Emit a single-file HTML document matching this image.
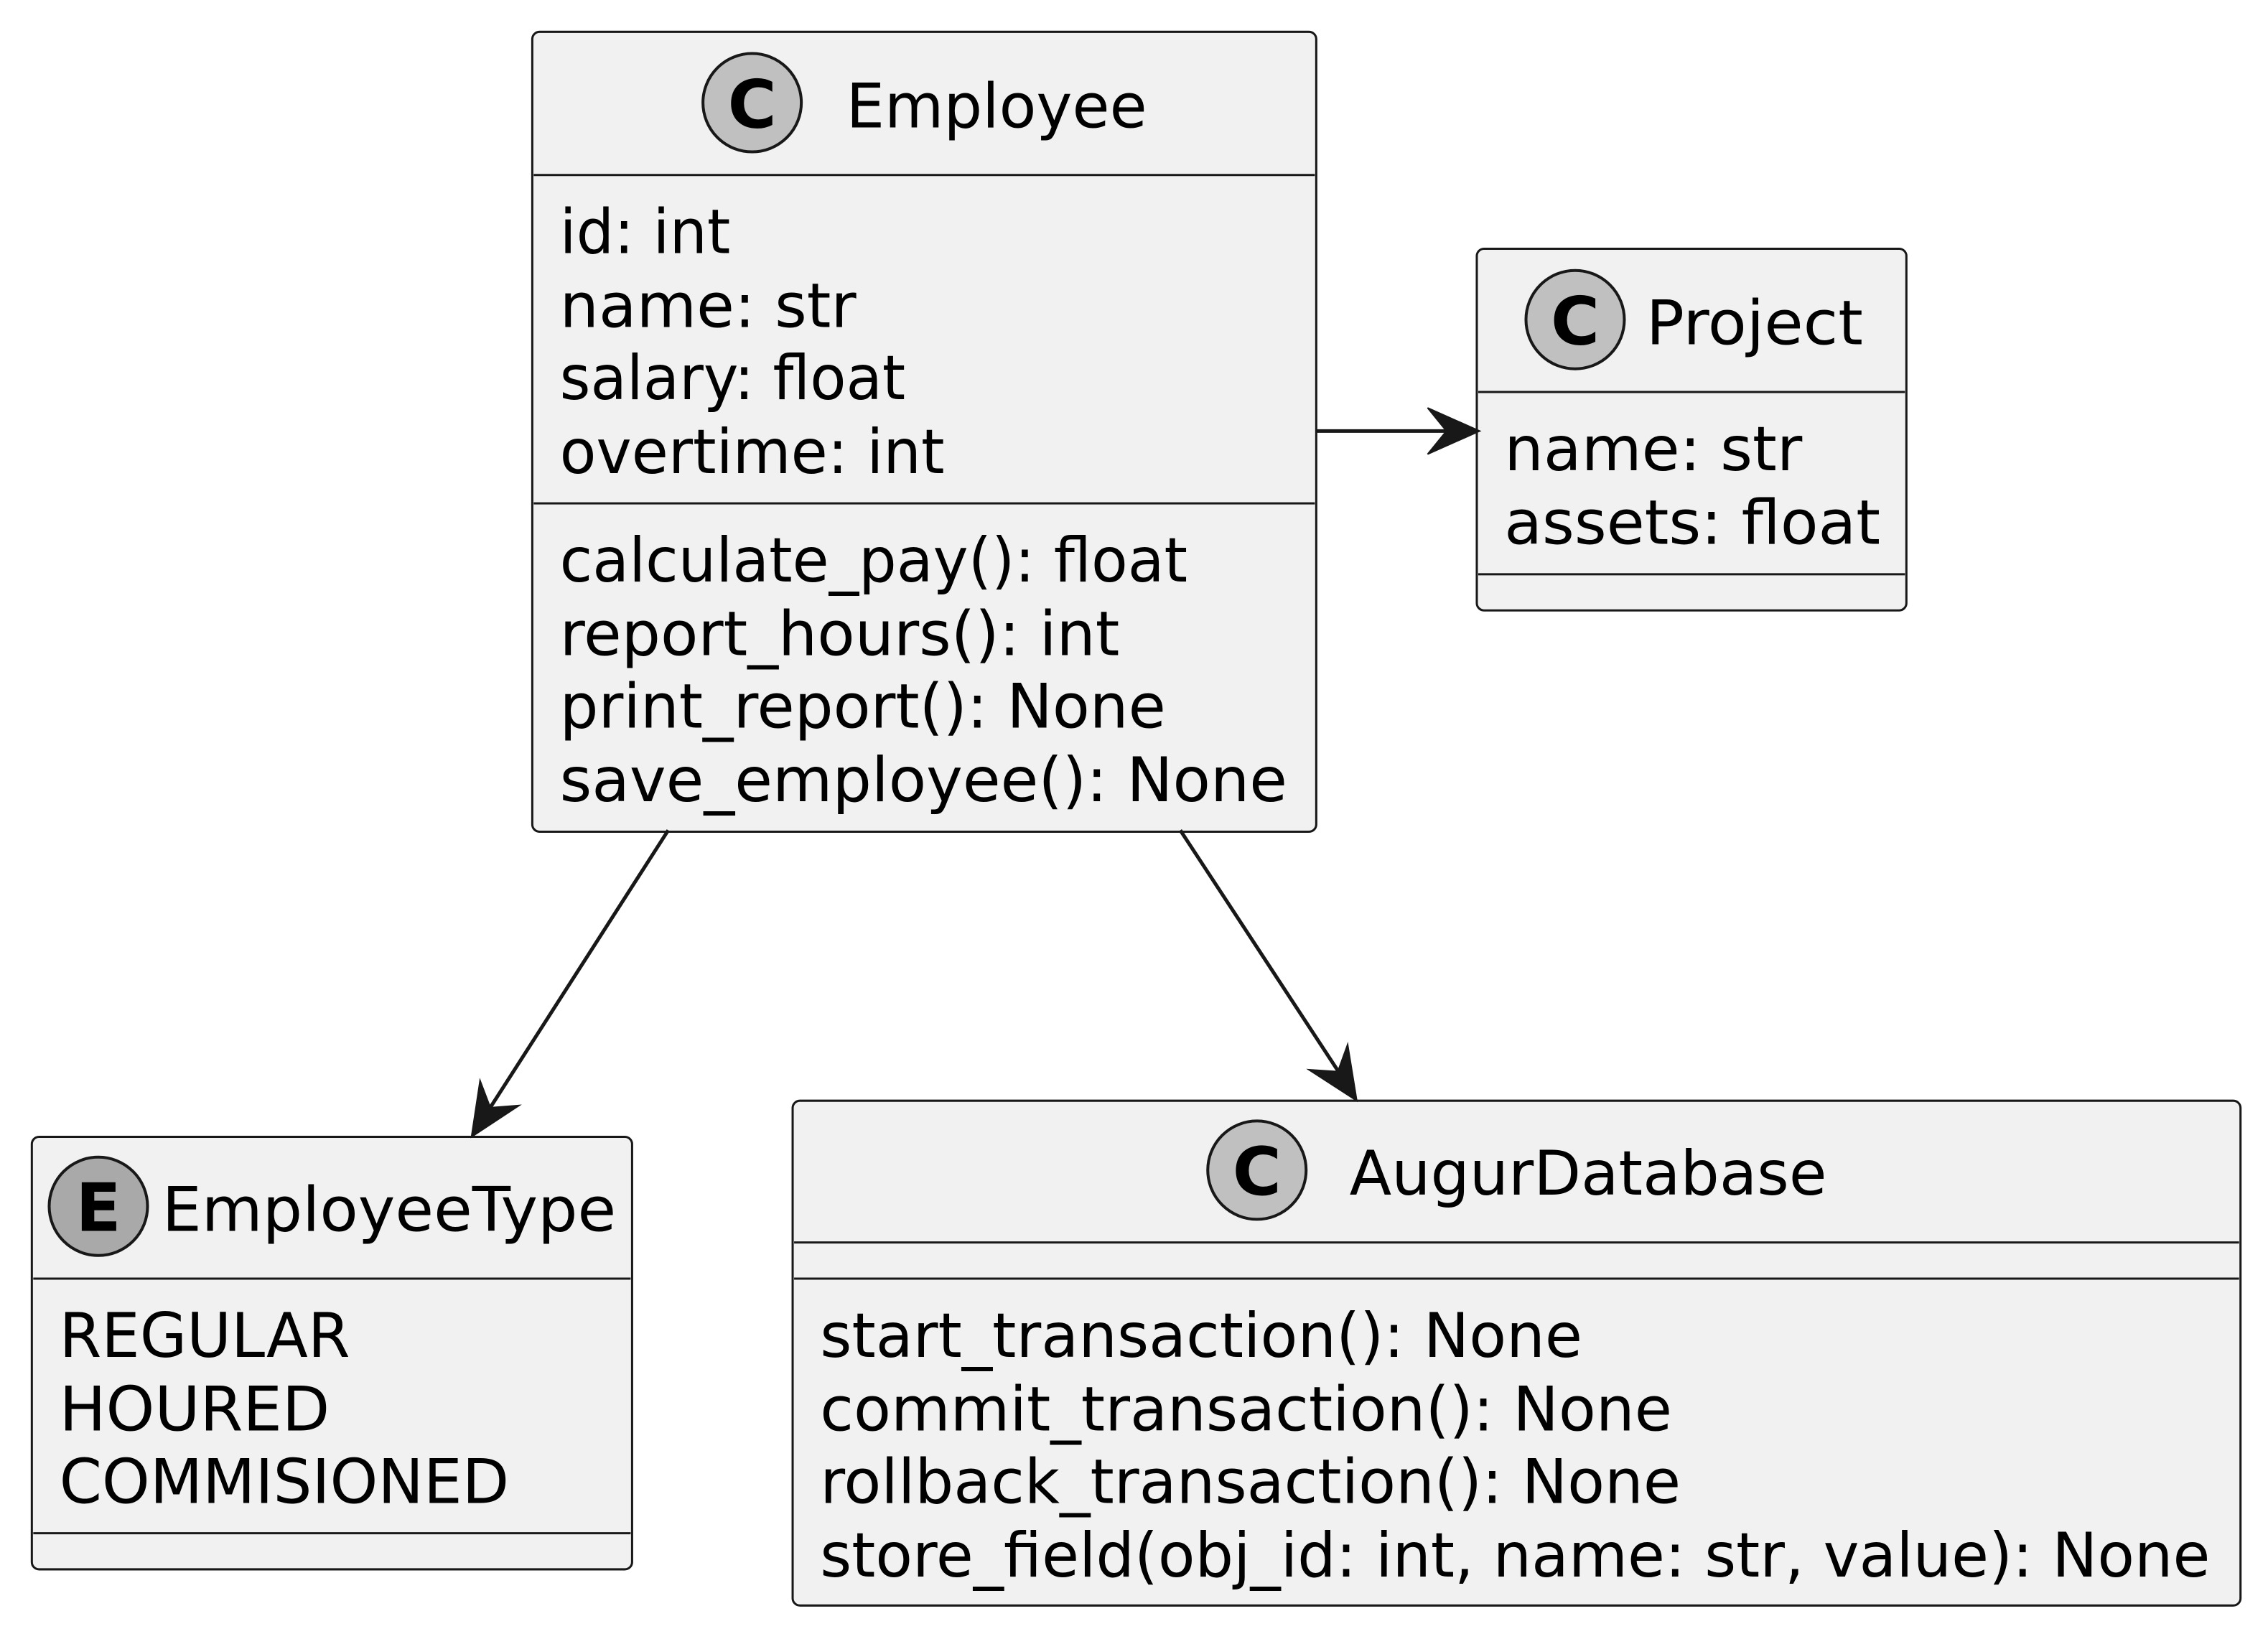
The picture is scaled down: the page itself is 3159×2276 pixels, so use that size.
<!DOCTYPE html>
<html><head><meta charset="utf-8"><style>
html,body{margin:0;padding:0;background:#fff;}
svg{display:block;}
text{font-family:"DejaVu Sans","Liberation Sans",sans-serif;font-size:42.6px;fill:#000;}
.b{font-weight:bold;font-size:46px;}
</style></head><body>
<svg width="3159" height="2276" viewBox="0 0 1568 1129.7" preserveAspectRatio="none" xmlns="http://www.w3.org/2000/svg">
<g stroke="#181818" stroke-width="1.5" fill="#F1F1F1">
<rect x="368" y="22" width="542" height="553" rx="5"/>
<rect x="1021" y="172" width="297" height="250" rx="5"/>
<rect x="22" y="786" width="415" height="299" rx="5"/>
<rect x="548" y="761" width="1001" height="349" rx="5"/>
</g>
<g stroke="#181818" stroke-width="1.5">
<line x1="369" y1="121" x2="909" y2="121"/>
<line x1="369" y1="348" x2="909" y2="348"/>
<line x1="1022" y1="271" x2="1317" y2="271"/>
<line x1="1022" y1="397" x2="1317" y2="397"/>
<line x1="23" y1="884" x2="436" y2="884"/>
<line x1="23" y1="1060" x2="436" y2="1060"/>
<line x1="549" y1="859" x2="1548" y2="859"/>
<line x1="549" y1="884" x2="1548" y2="884"/>
</g>
<g stroke="#181818" stroke-width="2">
<circle cx="520" cy="71" r="34" fill="#C0C0C0"/>
<circle cx="1089" cy="221" r="34" fill="#C0C0C0"/>
<circle cx="68" cy="834" r="34" fill="#A9A9A9"/>
<circle cx="869" cy="809" r="34" fill="#C0C0C0"/>
</g>
<text class="b" x="520" y="88" text-anchor="middle">C</text>
<text class="b" x="1089" y="238" text-anchor="middle">C</text>
<text class="b" x="68" y="851" text-anchor="middle">E</text>
<text class="b" x="869" y="826" text-anchor="middle">C</text>

<g lengthAdjust="spacingAndGlyphs">
<text x="585" y="88" textLength="208" lengthAdjust="spacingAndGlyphs">Employee</text>
<text x="387" y="175" textLength="118" lengthAdjust="spacingAndGlyphs">id: int</text>
<text x="387" y="226" textLength="205" lengthAdjust="spacingAndGlyphs">name: str</text>
<text x="387" y="276" textLength="239" lengthAdjust="spacingAndGlyphs">salary: float</text>
<text x="387" y="327" textLength="266" lengthAdjust="spacingAndGlyphs">overtime: int</text>
<text x="387" y="402" textLength="434" lengthAdjust="spacingAndGlyphs">calculate_pay(): float</text>
<text x="387" y="453" textLength="387" lengthAdjust="spacingAndGlyphs">report_hours(): int</text>
<text x="387" y="503" textLength="419" lengthAdjust="spacingAndGlyphs">print_report(): None</text>
<text x="387" y="554" textLength="503" lengthAdjust="spacingAndGlyphs">save_employee(): None</text>

<text x="1138" y="238" textLength="150" lengthAdjust="spacingAndGlyphs">Project</text>
<text x="1040" y="325" textLength="206" lengthAdjust="spacingAndGlyphs">name: str</text>
<text x="1040" y="376" textLength="260" lengthAdjust="spacingAndGlyphs">assets: float</text>

<text x="112" y="851" textLength="314" lengthAdjust="spacingAndGlyphs">EmployeeType</text>
<text x="41" y="938" textLength="201" lengthAdjust="spacingAndGlyphs">REGULAR</text>
<text x="41" y="989" textLength="187" lengthAdjust="spacingAndGlyphs">HOURED</text>
<text x="41" y="1039" textLength="311" lengthAdjust="spacingAndGlyphs">COMMISIONED</text>

<text x="933" y="826" textLength="330" lengthAdjust="spacingAndGlyphs">AugurDatabase</text>
<text x="567" y="938" textLength="527" lengthAdjust="spacingAndGlyphs">start_transaction(): None</text>
<text x="567" y="989" textLength="589" lengthAdjust="spacingAndGlyphs">commit_transaction(): None</text>
<text x="567" y="1039" textLength="595" lengthAdjust="spacingAndGlyphs">rollback_transaction(): None</text>
<text x="567" y="1090" textLength="961" lengthAdjust="spacingAndGlyphs">store_field(obj_id: int, name: str, value): None</text>
</g>

<g stroke="#181818" stroke-width="2.5" fill="none">
<line x1="910" y1="298" x2="1012" y2="298"/>
<line x1="462" y1="574" x2="333" y2="775"/>
<line x1="816" y1="574" x2="932" y2="751"/>
</g>
<g fill="#181818" stroke="#181818" stroke-width="1">
<polygon points="1023,298 987,282 1000,298 987,314"/>
<polygon points="326,786 331.9,747.1 339,765.8 358.9,764.3"/>
<polygon points="938,761 904.9,739.6 924.9,740.9 931.7,722.2"/>
</g>
</svg>
</body></html>
